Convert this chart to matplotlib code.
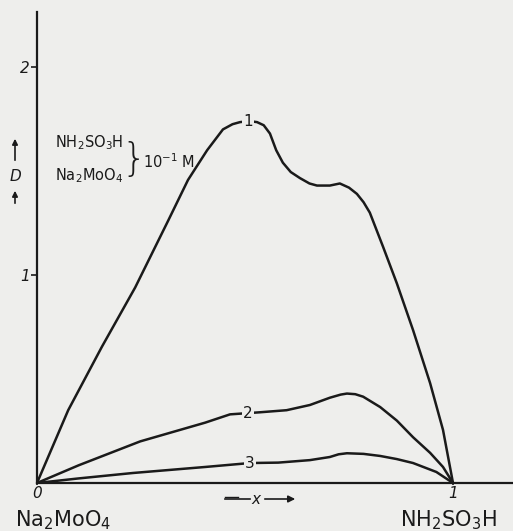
import matplotlib.pyplot as plt

# mole fraction of NH2SO3H and optical density D for three concentrations
x1 = [0.0, 0.075, 0.156, 0.236, 0.315, 0.363, 0.409, 0.447, 0.47, 0.488, 0.51, 0.529, 0.545, 0.56, 0.575,
      0.591, 0.61, 0.632, 0.655, 0.673, 0.704, 0.728, 0.75, 0.769, 0.785, 0.80, 0.832, 0.865, 0.904,
      0.945, 0.976, 1.0]
d1 = [0.0, 0.35, 0.655, 0.94, 1.26, 1.457, 1.60, 1.70, 1.725, 1.735, 1.74, 1.735, 1.72, 1.68, 1.60,
      1.54, 1.495, 1.466, 1.44, 1.43, 1.43, 1.44, 1.42, 1.39, 1.35, 1.30, 1.135, 0.96, 0.735,
      0.48, 0.255, 0.0]

x2 = [0.0, 0.1, 0.248, 0.404, 0.464, 0.536, 0.6, 0.656, 0.704, 0.73, 0.745, 0.765, 0.784, 0.825,
      0.865, 0.904, 0.945, 0.976, 1.0]
d2 = [0.0, 0.085, 0.20, 0.29, 0.33, 0.34, 0.35, 0.375, 0.41, 0.425, 0.43, 0.427, 0.415, 0.365,
      0.30, 0.22, 0.145, 0.077, 0.0]

x3 = [0.0, 0.1, 0.23, 0.404, 0.512, 0.58, 0.656, 0.704, 0.725, 0.745, 0.785, 0.825, 0.865, 0.904, 0.96, 1.0]
d3 = [0.0, 0.022, 0.048, 0.077, 0.096, 0.098, 0.11, 0.125, 0.138, 0.143, 0.14, 0.13, 0.115, 0.096, 0.053, 0.0]

labels = ["1", "2", "3"]
label_pos = [(0.507, 1.74), (0.507, 0.335), (0.512, 0.096)]

bg = "#eeeeec"
ink = "#1a1a1a"

fig = plt.figure(figsize=(5.13, 5.31), dpi=100, facecolor=bg)
ax = fig.add_axes([37 / 513, 48 / 531, 476 / 513, 471 / 531], facecolor=bg)

for xs, ds in [(x1, d1), (x2, d2), (x3, d3)]:
    ax.plot(xs, ds, color=ink, lw=1.8, solid_capstyle="round", solid_joinstyle="round")

for lab, (lx, ly) in zip(labels, label_pos):
    ax.text(lx, ly, lab, ha="center", va="center", fontsize=11, color=ink,
            bbox=dict(facecolor=bg, edgecolor="none", pad=1.0))

ax.set_xlim(0, 476 / 416)
ax.set_ylim(0, 471 / 208)
for s in ["top", "right"]:
    ax.spines[s].set_visible(False)
for s in ["left", "bottom"]:
    ax.spines[s].set_linewidth(1.6)
    ax.spines[s].set_color(ink)

ax.set_yticks([1, 2])
ax.set_yticklabels(["1", "2"], fontsize=11, style="italic", color=ink)
ax.set_xticks([0, 1])
ax.set_xticklabels(["0", "1"], fontsize=11, style="italic", color=ink)
ax.tick_params(axis="y", length=4, width=1.2, pad=1, color=ink)
ax.tick_params(axis="x", length=3, width=1.2, pad=1, color=ink, direction="inout")

# legend text with brace
ax.text(0.043, 1.635, r"$\mathregular{NH_2SO_3H}$", fontsize=10.5, color=ink, va="center")
ax.text(0.043, 1.48, r"$\mathregular{Na_2MoO_4}$", fontsize=10.5, color=ink, va="center")
ax.text(0.232, 1.555, "}", fontsize=28, color=ink, va="center", ha="center", fontweight="light")
ax.text(0.256, 1.545, r"$\mathregular{10^{-1}}$ M", fontsize=10.5, color=ink, va="center")

# component names below the axis
fig.text(15 / 513, 1 - 520 / 531, r"$\mathregular{Na_2MoO_4}$", fontsize=15, color=ink, va="center")
fig.text(400 / 513, 1 - 520 / 531, r"$\mathregular{NH_2SO_3H}$", fontsize=15, color=ink, va="center")

# x label with arrows
fig.text(256 / 513, 1 - 499 / 531, "x", fontsize=11, style="italic", color=ink, ha="center", va="center")
fig.add_artist(plt.Line2D([225 / 513, 250 / 513], [1 - 499 / 531] * 2, color=ink, lw=1.2))
fig.add_artist(plt.Line2D([225 / 513, 238 / 513], [1 - 497 / 531] * 2, color=ink, lw=1.0))
ax.annotate("", xy=(298 / 513, 1 - 499 / 531), xytext=(262 / 513, 1 - 499 / 531),
            xycoords="figure fraction", textcoords="figure fraction",
            arrowprops=dict(arrowstyle="-|>", color=ink, lw=1.2, mutation_scale=10))

# y label D with arrows
fig.text(15 / 513, 1 - 177 / 531, "D", fontsize=11, style="italic", color=ink, ha="center", va="center")
ax.annotate("", xy=(15 / 513, 1 - 136 / 531), xytext=(15 / 513, 1 - 163 / 531),
            xycoords="figure fraction", textcoords="figure fraction",
            arrowprops=dict(arrowstyle="-|>", color=ink, lw=1.2, mutation_scale=8))
ax.annotate("", xy=(15 / 513, 1 - 188 / 531), xytext=(15 / 513, 1 - 206 / 531),
            xycoords="figure fraction", textcoords="figure fraction",
            arrowprops=dict(arrowstyle="-|>", color=ink, lw=1.2, mutation_scale=8))

fig.savefig("out.png", dpi=100, facecolor=bg)
